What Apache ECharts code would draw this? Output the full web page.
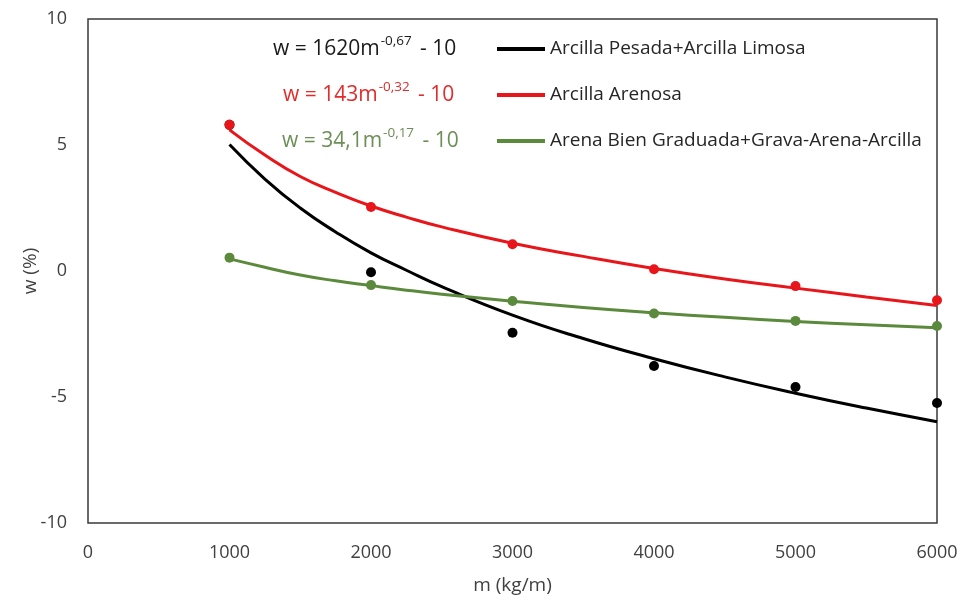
<!DOCTYPE html>
<html>
<head>
<meta charset="utf-8">
<script src="https://cdn.jsdelivr.net/npm/echarts@6/dist/echarts.min.js"></script>
<style>
  html, body { margin: 0; padding: 0; background: #fff; }
  #chart { width: 972px; height: 596px; }
</style>
</head>
<body>
<div id="chart"></div>
<script>
// Measured points, m (kg/m) vs w (%)
const mValues = [1000, 2000, 3000, 4000, 5000, 6000];
const pesadaPts = [5.8, -0.05, -2.45, -3.77, -4.6, -5.24];
const arenosaPts = [5.8, 2.54, 1.06, 0.07, -0.6, -1.16];
const gravaPts = [0.53, -0.56, -1.19, -1.69, -1.98, -2.18];

// Trend curves: denser samples where they bend most
const curveM = [1000, 1250, 1500, 1750, 2000, 2250, 2500, 3000, 3500, 4000, 4500, 5000, 5500, 6000];
const pesadaCurve = [5.02, 3.65, 2.5, 1.55, 0.72, 0.03, -0.62, -1.75, -2.68, -3.48, -4.2, -4.85, -5.44, -5.98];
const arenosaCurve = [5.6, 4.6, 3.75, 3.12, 2.58, 2.14, 1.75, 1.1, 0.58, 0.1, -0.32, -0.68, -1.03, -1.37];
const gravaCurve = [0.48, 0.15, -0.16, -0.39, -0.58, -0.76, -0.92, -1.2, -1.45, -1.66, -1.84, -2.0, -2.13, -2.25];

const seriesNames = [
  'Arcilla Pesada+Arcilla Limosa',
  'Arcilla Arenosa',
  'Arena Bien Graduada+Grava-Arena-Arcilla'
];
const seriesColors = ['#000000', '#e8161b', '#5b8a3c'];
const eqColors = ['#1a1a1a', '#e32b2b', '#6c8f57'];
// Fitted equations: coefficient, exponent text
const eqCoef = ['1620', '143', '34,1'];
const eqExp = ['-0,67', '-0,32', '-0,17'];

const xTicks = { min: 0, max: 6000, interval: 1000 };
const yTicks = { min: -10, max: 10, interval: 5 };

const FONT = '"Open Sans", "Liberation Sans", sans-serif';

const chart = echarts.init(document.getElementById('chart'), null, { renderer: 'canvas' });

const zip = (xs, ys) => xs.map((x, i) => [x, ys[i]]);
const curves = [pesadaCurve, arenosaCurve, gravaCurve];
const points = [pesadaPts, arenosaPts, gravaPts];

const lineSeries = curves.map((c, i) => ({
  name: seriesNames[i],
  type: 'line',
  data: zip(curveM, c),
  smooth: 0.5,
  showSymbol: false,
  symbol: 'none',
  lineStyle: { color: seriesColors[i], width: 3 },
  itemStyle: { color: seriesColors[i] },
  z: 2
}));

const dotOrder = [0, 2, 1];
const dotSeries = dotOrder.map(i => ({
  type: 'scatter',
  data: zip(mValues, points[i]),
  symbol: 'circle',
  symbolSize: 10,
  itemStyle: { color: seriesColors[i], opacity: 1 },
  z: 3
}));

const eqRows = [49, 95, 141];
const eqLeft = [273, 283, 282];
const eqGraphics = eqCoef.map((c, i) => ({
  type: 'text',
  left: eqLeft[i],
  top: eqRows[i] - 15,
  style: {
    text: '{b|w = ' + c + 'm}{s|' + eqExp[i] + '}{b| - 10}',
    rich: {
      b: { fontFamily: FONT, fontSize: 21, fill: eqColors[i], lineHeight: 30, verticalAlign: 'middle' },
      s: { fontFamily: FONT, fontSize: 13.5, fill: eqColors[i], lineHeight: 22, verticalAlign: 'top', padding: [0, 3, 0, 1] }
    }
  }
}));

chart.setOption({
  animation: false,
  backgroundColor: '#ffffff',
  grid: {
    left: 88, right: 35, top: 19, bottom: 73,
    outerBoundsMode: 'none',
    containLabel: false,
    show: true, borderColor: '#3a3a3a', borderWidth: 1.5, backgroundColor: 'transparent'
  },
  legend: {
    data: seriesNames,
    orient: 'vertical',
    left: 497,
    top: 38,
    padding: 0,
    icon: 'rect',
    itemWidth: 48,
    itemHeight: 4,
    itemGap: 24,
    textStyle: { fontFamily: FONT, fontSize: 19, color: '#262626', lineHeight: 22 },
    selectedMode: false
  },
  xAxis: {
    type: 'value',
    min: xTicks.min, max: xTicks.max, interval: xTicks.interval,
    name: 'm (kg/m)',
    nameLocation: 'middle',
    nameGap: 53,
    nameMoveOverlap: false,
    nameTextStyle: { fontFamily: FONT, fontSize: 19, color: '#404040' },
    axisLine: { show: false },
    axisTick: { show: false },
    splitLine: { show: false },
    axisLabel: { fontFamily: FONT, fontSize: 18, color: '#404040', margin: 21, formatter: v => String(v) }
  },
  yAxis: {
    type: 'value',
    min: yTicks.min, max: yTicks.max, interval: yTicks.interval,
    name: 'w (%)',
    nameLocation: 'middle',
    nameGap: 48,
    nameMoveOverlap: false,
    nameTextStyle: { fontFamily: FONT, fontSize: 19, color: '#404040' },
    axisLine: { show: false },
    axisTick: { show: false },
    splitLine: { show: false },
    axisLabel: { fontFamily: FONT, fontSize: 18, color: '#404040', margin: 21, formatter: v => String(v) }
  },
  graphic: eqGraphics,
  series: [...lineSeries, ...dotSeries]
});
</script>
</body>
</html>
